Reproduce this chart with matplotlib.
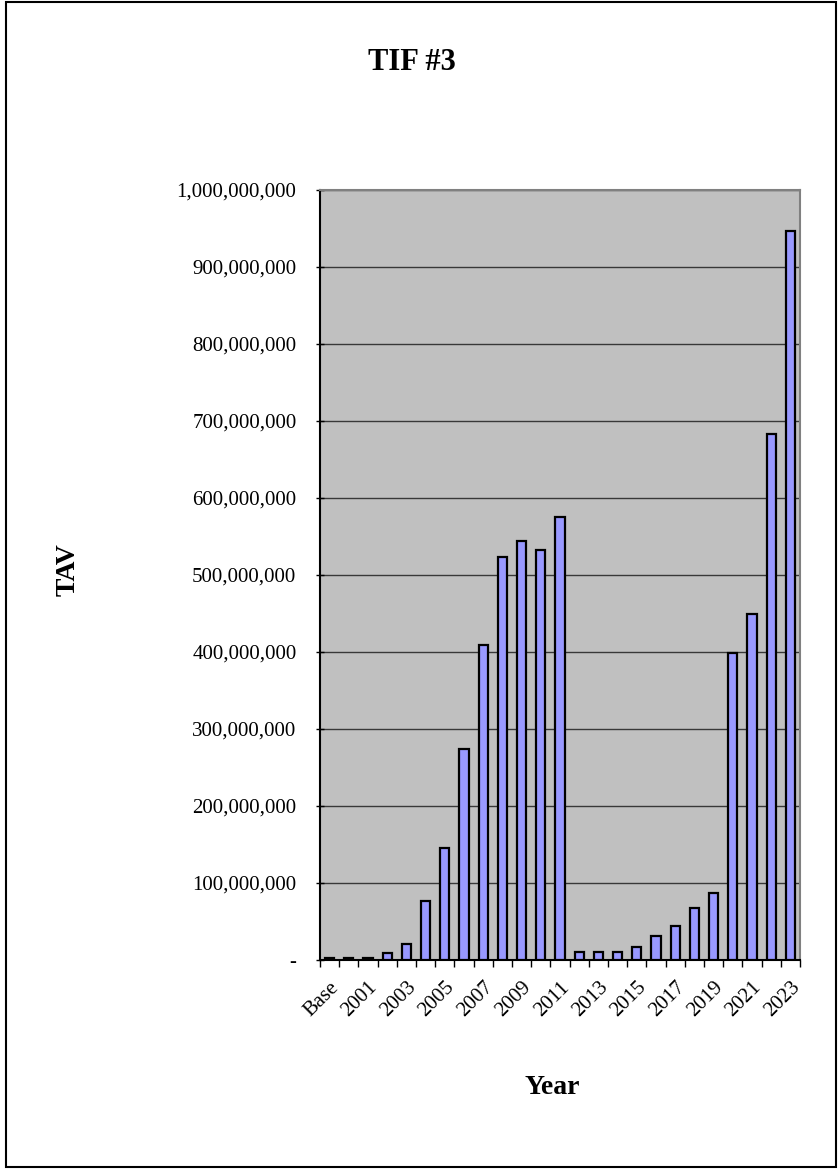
import matplotlib
matplotlib.use("Agg")
import matplotlib.pyplot as plt
from matplotlib.patches import Rectangle
from matplotlib.ticker import FuncFormatter, FixedLocator, MultipleLocator
from matplotlib.transforms import ScaledTranslation

plt.rcParams['font.family'] = ['Liberation Serif', 'DejaVu Serif']

categories = ['Base'] + [str(y) for y in range(2000, 2024)]
values = [2e6, 2e6, 3e6, 9.5e6, 21e6, 77e6, 145e6, 274e6, 409e6, 524e6, 544e6, 533e6, 575e6,
          10.4e6, 10.5e6, 11e6, 17.5e6, 31e6, 44e6, 68e6, 87e6, 399e6, 450e6, 683e6, 947e6]

W, H = 838, 1169
fig = plt.figure(figsize=(W/100, H/100), dpi=100)
fig.patches.append(Rectangle((6/W, 2/H), (836-6)/W, (1167-2)/H, transform=fig.transFigure,
                             fill=False, edgecolor='black', linewidth=1.5))

ax = fig.add_axes([320/W, 1-960/H, 480/W, 770/H])
ax.set_facecolor('#C0C0C0')
x = list(range(len(categories)))
ax.bar(x, values, width=0.48, color='#9999FF', edgecolor='black', linewidth=1.6, zorder=3)
ax.set_xlim(-0.5, len(categories)-0.5)
ax.set_ylim(0, 1e9)
ax.yaxis.set_major_locator(MultipleLocator(1e8))
ax.yaxis.set_major_formatter(FuncFormatter(lambda v, p: '-' if v == 0 else f'{v:,.0f}'))
ax.grid(axis='y', color='#383838', linewidth=1.0, zorder=1)
ax.set_axisbelow(True)

# x ticks at category boundaries, labels every other category
ax.xaxis.set_major_locator(FixedLocator([i - 0.5 for i in range(len(categories)+1)]))
ax.set_xticklabels([])
ax.set_xticks(x[::2], minor=True)
labels = ax.set_xticklabels(categories[::2], minor=True, rotation=45, ha='right', va='top',
                            rotation_mode='anchor', fontsize=15)
offset = ScaledTranslation(4/100, 0, fig.dpi_scale_trans)
for lab in labels:
    lab.set_transform(lab.get_transform() + offset)
ax.tick_params(axis='x', which='minor', length=0, pad=13)
ax.tick_params(axis='x', which='major', length=5, width=1, direction='out', color='black')
ax.tick_params(axis='y', length=6, width=1, direction='inout', labelsize=15, pad=14)

for s in ['top', 'right']:
    ax.spines[s].set_color('#808080')
    ax.spines[s].set_linewidth(1.5)
for s in ['left', 'bottom']:
    ax.spines[s].set_color('black')
    ax.spines[s].set_linewidth(1.5)

fig.text(412/W, 1-62/H, 'TIF #3', ha='center', va='center', fontsize=22, fontweight='bold')
fig.text(68/W, 1-570/H, 'TAV', ha='center', va='center', fontsize=20, fontweight='bold', rotation=90)
fig.text(552/W, 1-1088/H, 'Year', ha='center', va='center', fontsize=20, fontweight='bold')

fig.savefig('out.png', dpi=100)
